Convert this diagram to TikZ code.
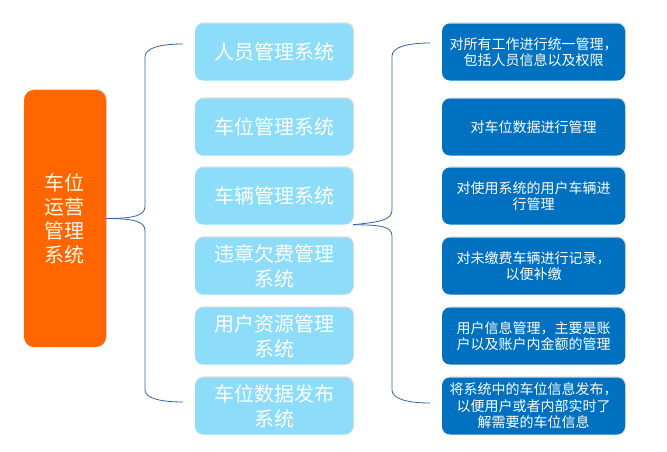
\documentclass[tikz,border=0pt]{standalone}
\usepackage{fontspec}
\setmainfont{Noto Sans CJK SC}
\usetikzlibrary{positioning,shadows}

\definecolor{chengse}{HTML}{FF6600}
\definecolor{qianlan}{HTML}{8CDCFA}
\definecolor{shenlan}{HTML}{0070C0}
\definecolor{xianse}{HTML}{2F63A8}
\definecolor{mibai}{HTML}{FFF6E6}

\tikzset{
  yinying/.style={drop shadow={opacity=0.28,shadow xshift=1pt,shadow yshift=1.2pt}},
  zhuti/.style={yinying,fill=chengse,rounded corners=10pt,minimum width=82pt,minimum height=257pt,
    inner sep=0pt,align=center,text=mibai,font=\fontsize{20pt}{24pt}\selectfont},
  zixi/.style={yinying,fill=qianlan,rounded corners=8pt,minimum width=158pt,minimum height=57pt,
    inner sep=0pt,align=center,text=white,font=\fontsize{20pt}{25pt}\selectfont},
  shuoming/.style={yinying,fill=shenlan,rounded corners=8pt,minimum width=183pt,minimum height=57pt,
    inner sep=0pt,align=center,text=white,font=\fontsize{14pt}{16.5pt}\selectfont},
  kuohao/.style={draw=xianse,line width=0.8pt}
}

\begin{document}
\begin{tikzpicture}[x=1pt,y=-1pt]
  \useasboundingbox (0,0) rectangle (667,451);
  % 左侧主框
  \node[zhuti] (sys) at (65,218.5) {车位\\运营\\管理\\系统};
  % 子系统
  \foreach \i/\yy/\txt in {1/52/人员管理系统, 2/127/车位管理系统, 3/196/车辆管理系统,
      4/266/{违章欠费管理\\系统}, 5/336/{用户资源管理\\系统}, 6/406/{车位数据发布\\系统}} {
    \node[zixi] (m\i) at (274,\yy) {\txt};
  }
  % 功能说明
  \foreach \i/\yy/\txt in {1/52/{对所有工作进行统一管理，\\包括人员信息以及权限},
      2/127/{对车位数据进行管理},
      3/196/{对使用系统的用户车辆进\\行管理},
      4/266/{对未缴费车辆进行记录，\\以便补缴},
      5/336/{用户信息管理，主要是账\\户以及账户内金额的管理},
      6/406/{将系统中的车位信息发布，\\以便用户或者内部实时了\\解需要的车位信息}} {
    \node[shuoming] (d\i) at (533.5,\yy) {\txt};
  }
  % 左括号
  \coordinate (lshang) at (183,44);
  \coordinate (lxia) at (183,402);
  \draw[kuohao] (sys.east) .. controls (136,218.5) and (145,215) .. (145,206) -- (145,57)
    .. controls (145,48) and (160,44) .. (lshang);
  \draw[kuohao] (sys.east) .. controls (136,218.5) and (145,222) .. (145,231) -- (145,390)
    .. controls (145,398) and (160,402) .. (lxia);
  % 右括号
  \coordinate (rshang) at (430,43);
  \coordinate (rxia) at (430,403);
  \draw[kuohao] (m3.south east) .. controls (380,222) and (392,220) .. (392,210) -- (392,56)
    .. controls (392,47) and (408,43) .. (rshang);
  \draw[kuohao] (m3.south east) .. controls (380,225) and (392,226) .. (392,236) -- (392,390)
    .. controls (392,399) and (408,403) .. (rxia);
\end{tikzpicture}
\end{document}
